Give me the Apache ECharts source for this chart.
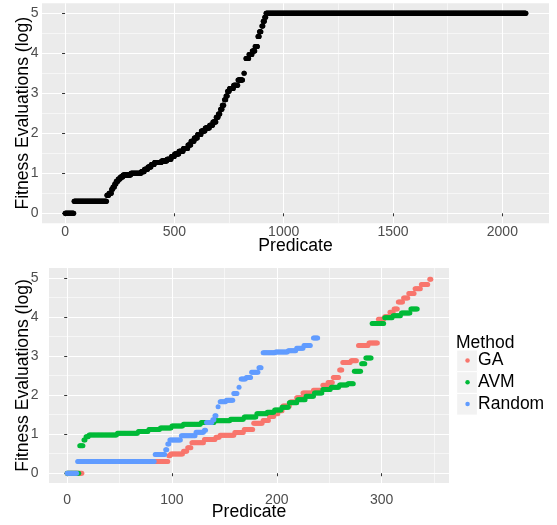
<!DOCTYPE html>
<html><head><meta charset="utf-8">
<script src="https://cdn.jsdelivr.net/npm/echarts@6/dist/echarts.min.js"></script>
<style>html,body{margin:0;padding:0;background:#fff}#c{width:557px;height:525px}</style>
</head><body><div id="c"></div>
<script>
// Data. Each run: [first predicate, last predicate, log10(fitness evaluations)]
const allRuns = [
  [0,40,0],[41,190,0.301],
  [191,200,0.45],[201,212,0.5],[213,218,0.6],[219,226,0.66],[227,233,0.73],
  [234,242,0.8],[243,252,0.86],[253,264,0.91],[265,300,0.96],[301,347,1.0],
  [348,362,1.04],[363,378,1.1],[379,393,1.16],[394,408,1.22],
  [409,440,1.27],[441,465,1.31],[466,485,1.35],
  [486,500,1.42],[501,520,1.48],[521,540,1.55],[541,561,1.62],
  [562,575,1.71],[576,590,1.8],[591,605,1.88],[606,622,1.97],
  [623,640,2.06],[641,660,2.13],[661,675,2.2],[676,690,2.28],
  [691,700,2.4],[701,708,2.48],[711,718,2.6],[719,726,2.7],
  [729,735,2.84],[736,742,2.93],[743,751,3.05],
  [752,770,3.12],[771,790,3.2],[791,812,3.33],[818,820,3.5],
  [827,840,3.87],[841,855,3.97],[856,868,4.06],[869,880,4.17],
  [882,888,4.42],[889,896,4.54],[900,905,4.68],[906,912,4.8],[913,918,4.9],
  [919,2108,5.0]
];
const gaRuns = [
  [0,14,0],[15,96,0.301],
  [97,98,0.45],[99,110,0.49],[111,114,0.56],[115,118,0.65],
  [119,130,0.78],[131,141,0.86],[142,145,0.92],[146,159,0.97],[160,168,1.04],[169,177,1.12],
  [178,186,1.28],[187,192,1.35],[193,197,1.45],[198,201,1.52],[202,205,1.6],[206,212,1.72],
  [213,218,1.82],[219,224,1.93],[225,234,2.05],[235,243,2.12],[244,248,2.25],[249,253,2.32],
  [254,259,2.45],[260,262,2.64],[263,270,2.83],[271,276,2.88],
  [278,287,3.27],[288,296,3.33],
  [297,302,3.94],[303,307,4.0],[308,311,4.12],[312,315,4.2],
  [316,320,4.38],[321,325,4.48],[326,331,4.6],[332,337,4.72],[338,344,4.83],[346,347,4.96]
];
const avmRuns = [
  [0,11,0],[12,15,0.7],[16,17,0.85],[18,20,0.93],[21,47,0.98],[48,67,1.02],[68,77,1.07],
  [78,88,1.12],[89,99,1.16],[100,110,1.21],[111,127,1.25],
  [128,140,1.3],[141,155,1.34],[156,168,1.38],[169,180,1.44],
  [181,190,1.52],[191,197,1.56],[198,204,1.62],[205,211,1.69],[212,219,1.8],[220,227,1.88],
  [228,235,1.97],[236,243,2.05],[244,251,2.14],[252,259,2.2],[260,267,2.26],[268,273,2.29],
  [274,280,2.61],[281,284,2.8],[285,290,2.95],
  [291,302,3.83],[303,310,3.98],[311,318,4.03],[319,327,4.1],[328,334,4.2]
];
const randomRuns = [
  [0,9,0],[10,83,0.301],[84,93,0.48],[94,95,0.6],[96,97,0.75],[98,108,0.85],
  [109,122,0.96],[123,130,1.05],[131,132,1.1],[133,138,1.3],[139,140,1.37],[141,142,1.47],
  [144,144,1.7],[146,151,1.83],[152,158,1.87],[159,162,2.04],[164,164,2.2],
  [166,170,2.41],[171,175,2.45],[176,182,2.58],[183,185,2.7],
  [187,198,3.08],[199,210,3.1],[211,218,3.13],[219,225,3.2],[226,232,3.27],[235,239,3.46]
];
const methods = ['GA','AVM','Random'];
const topXTicks = [0,500,1000,1500,2000];
const topXMinor = [250,750,1250,1750];
const botXTicks = [0,100,200,300];
const botXMinor = [50,150,250,350];
const yTicks = [0,1,2,3,4,5];
const yMinor = [0.5,1.5,2.5,3.5,4.5];

function expand(runs){
  const out = [];
  runs.forEach(r => { for (let x = r[0]; x <= r[1]; x++) out.push([x, r[2]]); });
  return out;
}
const FONT = '"Liberation Sans", Arial, sans-serif';
const colors = ['#F8766D','#00BA38','#619CFF'];

function mainAxis(gridIndex, min, max, ticks, isY, margin, name, nameGap){
  return {
    type:'value', gridIndex, min, max, position: isY ? 'left' : 'bottom',
    axisLine:{show:false},
    axisTick:{show:true, length:3, customValues:ticks, lineStyle:{color:'#333333', width:1}},
    axisLabel:{show:true, customValues:ticks, margin, color:'#4D4D4D', fontSize:14, fontFamily:FONT,
      formatter: v => String(v)},
    splitLine:{show:true, lineStyle:{color:'#FFFFFF', width:1.1}},
    name, nameLocation:'middle', nameGap, nameRotate: isY ? 90 : 0, nameMoveOverlap:false,
    nameTextStyle:{fontSize:17.6, color:'#000000', fontFamily:FONT}
  };
}
function minorAxis(gridIndex, min, max, ticks, isY){
  return {
    type:'value', gridIndex, min, max, position: isY ? 'left' : 'bottom',
    axisLine:{show:false},
    axisTick:{show:false, customValues:ticks},
    axisLabel:{show:false, customValues:ticks},
    splitLine:{show:true, lineStyle:{color:'#FFFFFF', width:0.55}}
  };
}
const topN = 2108, botN = 347;
const xAxes = [
  minorAxis(0, -0.05*topN, 1.05*topN, topXMinor, false),
  mainAxis(0, -0.05*topN, 1.05*topN, topXTicks, false, 2, 'Predicate', 14),
  minorAxis(1, -0.05*botN, 1.05*botN, botXMinor, false),
  mainAxis(1, -0.05*botN, 1.05*botN, botXTicks, false, 10.5, 'Predicate', 20.5)
];
const yAxes = [
  minorAxis(0, -0.25, 5.25, yMinor, true),
  mainAxis(0, -0.25, 5.25, yTicks, true, 3.5, 'Fitness Evaluations (log)', 10),
  minorAxis(1, -0.25, 5.25, yMinor, true),
  mainAxis(1, -0.25, 5.25, yTicks, true, 10.5, 'Fitness Evaluations (log)', 17)
];
const scatter = (name, runs, color, xi, yi) => ({
  name, type:'scatter', xAxisIndex:xi, yAxisIndex:yi, data: expand(runs),
  symbol:'circle', symbolSize:5, itemStyle:{color, opacity:1}, silent:true,
  emphasis:{disabled:true}
});
const chart = echarts.init(document.getElementById('c'), null, {renderer:'canvas'});
chart.setOption({
  animation:false,
  backgroundColor:'#FFFFFF',
  textStyle:{fontFamily:FONT},
  grid:[
    {left:42, top:3.3, width:507, height:220, show:true, backgroundColor:'#EBEBEB', borderWidth:0, containLabel:false, outerBoundsMode:'none'},
    {left:49, top:268, width:400, height:215, show:true, backgroundColor:'#EBEBEB', borderWidth:0, containLabel:false, outerBoundsMode:'none'}
  ],
  xAxis: xAxes,
  yAxis: yAxes,
  title:{text:'Method', left:456, top:334, padding:0, textStyle:{fontSize:17.5, fontWeight:'normal', color:'#000000', fontFamily:FONT}},
  legend:{
    data: methods, orient:'vertical', left:465.3, top:349.7, padding:0, itemGap:0,
    icon:'circle', itemWidth:11, itemHeight:4.5, selectedMode:false,
    textStyle:{fontSize:17.5, color:'#000000', fontFamily:FONT, lineHeight:21.7}
  },
  graphic:[0,1,2].map(i => ({
    type:'rect', z:-1, shape:{x:456.7, y:350 + i*21.7, width:20.7, height:21.7},
    style:{fill:'#F2F2F2', stroke:'#FFFFFF', lineWidth:1}, silent:true
  })),
  series:[
    {name:'all', type:'scatter', xAxisIndex:1, yAxisIndex:1, data: expand(allRuns),
     symbol:'circle', symbolSize:5, itemStyle:{color:'#000000'}, silent:true, emphasis:{disabled:true}},
    scatter(methods[0], gaRuns, colors[0], 3, 3),
    scatter(methods[1], avmRuns, colors[1], 3, 3),
    scatter(methods[2], randomRuns, colors[2], 3, 3)
  ]
});
</script></body></html>
